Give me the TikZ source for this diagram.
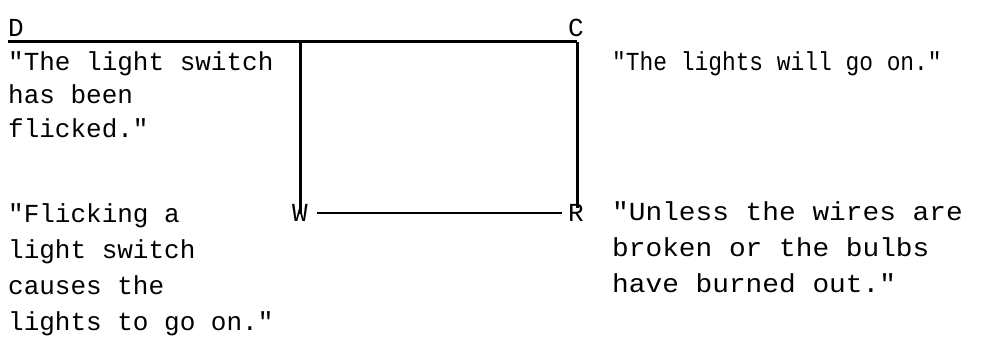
\documentclass[tikz,border=0pt]{standalone}
\usepackage{fontspec}
\newfontfamily\tw{Liberation Mono}
\newfontfamily\twn{Liberation Mono}[FakeStretch=0.88]
\newfontfamily\tww{Liberation Mono}[FakeStretch=1.07]
\begin{document}
\begin{tikzpicture}[x=1pt,y=-1pt,
  lab/.style={inner sep=0pt, font=\tw\fontsize{26}{33.5}\selectfont},
  txt/.style={lab, align=left, anchor=north west},
  txtb/.style={txt, font=\tw\fontsize{26}{36}\selectfont},
  heavy/.style={line width=3pt},
  light/.style={line width=1.6pt}]
\useasboundingbox (0,0) rectangle (994,347);
\node[lab, anchor=base west] (D) at (8,37) {D};
\node[lab, anchor=base east] (C) at (584,37) {C};
\node[lab] (W) at (300,213) {W};
\node[lab] (R) at (576,213) {R};
\coordinate (DL) at (8,42);
\coordinate (CR) at (577,42);
\coordinate (WT) at (300,42);
\draw[heavy] (DL) -- (CR);
\draw[heavy] (WT) -- ([yshift=-10pt]W.north);
\draw[heavy] (CR) -- ([yshift=-4pt]CR |- R.north);
\draw[light] ([xshift=9pt]W.east) -- ([xshift=-6pt]R.west);
\node[txt] (data) at (8,51) {"The light switch\\has been\\flicked."};
\node[txt, font=\twn\fontsize{26}{33.5}\selectfont] (claim) at (612,51) {"The lights will go on."};
\node[txtb] (warrant) at (8,203) {"Flicking a\\light switch\\causes the\\lights to go on."};
\node[txtb, font=\tww\fontsize{26}{36}\selectfont] (rebut) at (612,201) {"Unless the wires are\\broken or the bulbs\\have burned out."};
\end{tikzpicture}
\end{document}
